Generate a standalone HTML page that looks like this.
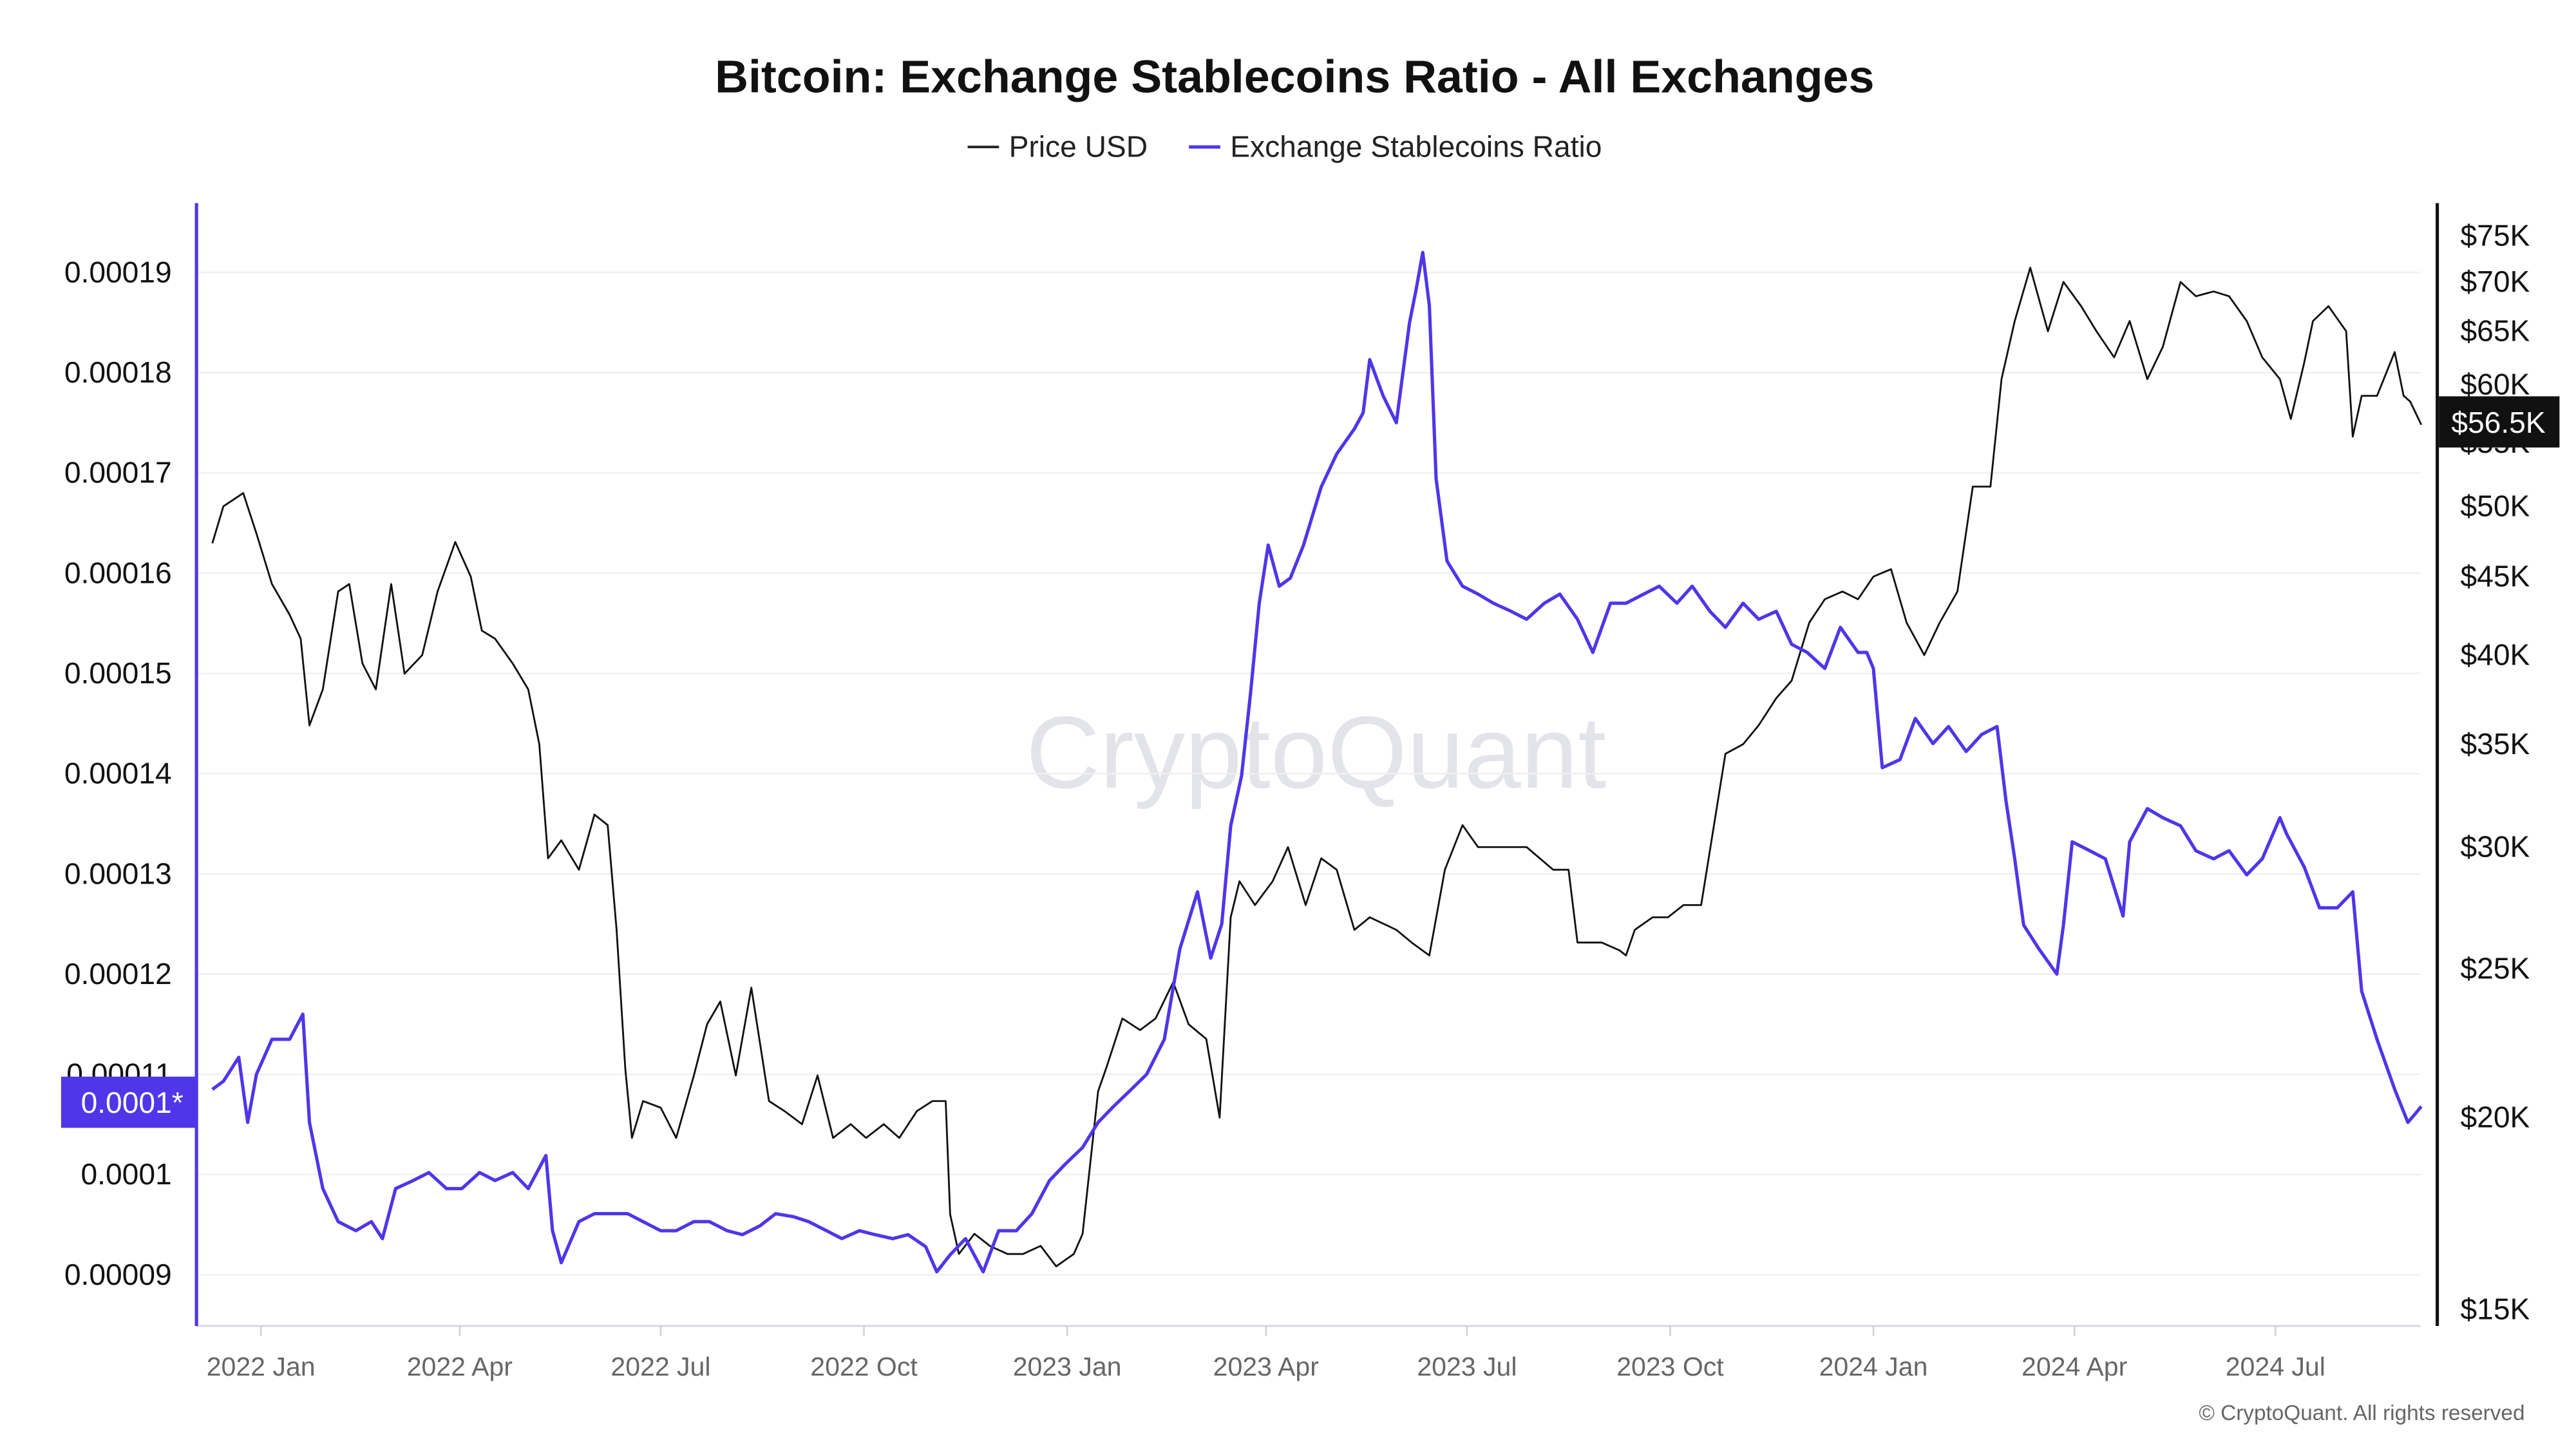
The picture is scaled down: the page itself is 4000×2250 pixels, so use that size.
<!DOCTYPE html>
<html><head><meta charset="utf-8"><style>
html,body{margin:0;padding:0;background:#fff;}
svg{display:block;font-family:"Liberation Sans",sans-serif;}
</style></head><body>
<svg id="chart" width="4000" height="2250" viewBox="0 0 1560 877.5" xmlns="http://www.w3.org/2000/svg">
<rect width="1560" height="877.5" fill="#fff"/>
<text x="784" y="56" text-anchor="middle" font-size="28" font-weight="bold" fill="#111">Bitcoin: Exchange Stablecoins Ratio - All Exchanges</text>
<g>
<g><line x1="586" y1="89" x2="605" y2="89" stroke="#222" stroke-width="1.5"/><text x="611" y="95" font-size="18" fill="#222">Price USD</text></g>
<g><line x1="720" y1="89" x2="739" y2="89" stroke="#4f36e8" stroke-width="2"/><text x="745" y="95" font-size="18" fill="#222">Exchange Stablecoins Ratio</text></g>
</g>
<text x="797" y="477" text-anchor="middle" font-size="62" fill="#e3e3ea">CryptoQuant</text>
<g id="grid"></g><g id="xaxis"></g><g id="lines"></g><g id="yaxes"></g>
<text x="1529" y="860" text-anchor="end" font-size="13" fill="#666">© CryptoQuant. All rights reserved</text>
</svg>
<script>
const priceDays=[-22,-17,-8,-2,5,13,18,22,28,35,40,46,52,59,65,73,80,88,95,100,106,114,121,126,130,136,144,151,157,161,165,168,173,181,188,196,202,208,215,222,230,237,245,252,259,267,274,282,289,297,304,310,312,316,323,330,338,345,353,360,368,372,379,383,390,398,405,413,420,428,434,439,443,450,458,465,473,480,487,495,502,514,521,529,536,544,551,562,573,585,592,596,607,615,618,622,630,637,644,652,663,671,678,686,693,701,708,716,723,730,738,745,753,760,768,775,783,788,794,801,809,816,824,831,839,846,854,861,869,876,884,891,899,906,914,919,925,929,936,944,947,951,958,966,970,973,978];
const priceValues=[47.3,50,51,48,44.5,42.5,41,36,38,44,44.5,39.5,38,44.5,38.9,40,44,47.4,45,41.5,41,39.5,38,35,29.5,30.3,29,31.5,31,26.5,21.5,19.4,20.5,20.3,19.4,21.3,23,23.8,21.3,24.3,20.5,20.2,19.8,21.3,19.4,19.8,19.4,19.8,19.4,20.2,20.5,20.5,17.3,16.3,16.8,16.5,16.3,16.3,16.5,16.0,16.3,16.8,20.8,21.6,23.2,22.8,23.2,24.5,23,22.5,20,27,28.5,27.5,28.5,30,27.5,29.5,29,26.5,27,26.5,26,25.5,29,31,30,30,30,29,29,26,26,25.7,25.5,26.5,27,27,27.5,27.5,34.5,35,36,37.5,38.5,42,43.5,44,43.5,45,45.5,42,40,42,44,51.5,51.5,60.5,66,71.5,65,70,67.5,65,62.5,66,60.5,63.5,70,68.5,69,68.5,66,62.5,60.5,57,62,66,67.5,65,55.5,59,59,63,59,58.5,56.5];
const ratioDays=[-22,-17,-10,-6,-2,5,13,19,22,28,35,43,50,55,61,69,76,84,91,99,106,114,121,129,132,136,144,151,158,166,173,181,188,196,203,211,218,226,233,241,248,256,263,271,278,286,293,301,306,312,319,327,334,342,349,357,364,372,379,386,394,401,409,416,424,430,435,439,444,448,452,456,461,466,472,480,487,495,499,502,508,514,520,523,526,529,532,537,544,551,558,566,573,581,588,596,603,611,618,626,633,641,648,656,663,671,678,686,693,700,708,715,723,727,730,734,742,749,757,764,772,779,786,790,794,798,805,813,816,820,828,835,843,846,854,861,869,876,884,891,899,906,914,917,925,932,940,947,951,958,966,972,975,978];
const ratioValues=[10.85,10.93,11.17,10.52,11.0,11.35,11.35,11.6,10.52,9.86,9.53,9.44,9.53,9.36,9.86,9.94,10.02,9.86,9.86,10.02,9.94,10.02,9.86,10.19,9.44,9.12,9.53,9.61,9.61,9.61,9.53,9.44,9.44,9.53,9.53,9.44,9.4,9.49,9.61,9.58,9.53,9.44,9.36,9.44,9.4,9.36,9.4,9.28,9.03,9.2,9.36,9.03,9.44,9.44,9.61,9.94,10.1,10.27,10.52,10.68,10.85,11.0,11.35,12.25,12.82,12.16,12.5,13.48,13.98,14.8,15.7,16.28,15.87,15.95,16.28,16.86,17.19,17.44,17.6,18.13,17.77,17.5,18.5,18.83,19.2,18.67,16.94,16.12,15.87,15.79,15.7,15.62,15.54,15.7,15.79,15.54,15.21,15.7,15.7,15.79,15.87,15.7,15.87,15.62,15.46,15.7,15.54,15.62,15.29,15.21,15.05,15.46,15.21,15.21,15.05,14.06,14.14,14.55,14.3,14.47,14.22,14.39,14.47,13.73,13.15,12.49,12.25,12.0,12.49,13.32,13.23,13.15,12.58,13.32,13.65,13.56,13.48,13.23,13.15,13.23,12.99,13.15,13.56,13.4,13.07,12.66,12.66,12.82,11.83,11.35,10.85,10.52,10.6,10.68];
const leftTicks=["0.00009","0.0001","0.00011","0.00012","0.00013","0.00014","0.00015","0.00016","0.00017","0.00018","0.00019"];
const leftTickValues=[9,10,11,12,13,14,15,16,17,18,19];
const rightTicks=[15,20,25,30,35,40,45,50,55,60,65,70,75];
const xTickLabels=["2022 Jan","2022 Apr","2022 Jul","2022 Oct","2023 Jan","2023 Apr","2023 Jul","2023 Oct","2024 Jan","2024 Apr","2024 Jul"];
const xTickDays=[0,90,181,273,365,455,546,638,730,821,912];

const NS="http://www.w3.org/2000/svg";
const X0=119,X1=1476,YB=803;
const xOf=d=>158+d*1.3377;
const yL=v=>772-(v-9)*60.7;
const yR=p=>793-Math.log(p/15)*404;
function mk(tag,attrs,parent){const e=document.createElementNS(NS,tag);for(const k in attrs)e.setAttribute(k,attrs[k]);parent.appendChild(e);return e;}
const grid=document.getElementById('grid'),xa=document.getElementById('xaxis'),ln=document.getElementById('lines'),ya=document.getElementById('yaxes');

leftTickValues.forEach((v,i)=>{
  const g=mk('line',{x1:X0,x2:1466,y1:yL(v),y2:yL(v),stroke:'#f0f0f0','stroke-width':1},grid);
  
  
  const t=mk('text',{x:104,y:yL(v)+6,'text-anchor':'end','font-size':18,fill:'#111'},ya);
  t.textContent=leftTicks[i];
  
  
});
rightTicks.forEach(p=>{
  const t=mk('text',{x:1490,y:yR(p)+6,'font-size':18,fill:'#111'},ya);
  t.textContent='$'+p+'K';
  
  
});
const ax=mk('line',{x1:X0,x2:1466,y1:YB,y2:YB,stroke:'#d8d8e0','stroke-width':1.2},xa);


xTickDays.forEach((d,i)=>{
  mk('line',{x1:xOf(d),x2:xOf(d),y1:YB,y2:YB+6,stroke:'#d0d0d8','stroke-width':1},xa);
  const t=mk('text',{x:xOf(d),y:YB+30,'text-anchor':'middle','font-size':16,fill:'#666'},xa);
  t.textContent=xTickLabels[i];
  
  
});
const pp=mk('polyline',{points:priceDays.map((d,i)=>xOf(d).toFixed(1)+','+yR(priceValues[i]).toFixed(1)).join(' '),fill:'none',stroke:'#111','stroke-width':1.1,'stroke-linejoin':'round'},ln);


const rp=mk('polyline',{points:ratioDays.map((d,i)=>xOf(d).toFixed(1)+','+yL(ratioValues[i]).toFixed(1)).join(' '),fill:'none',stroke:'#4f36e8','stroke-width':2,'stroke-linejoin':'round'},ln);



const la=mk('line',{x1:X0,x2:X0,y1:123,y2:803,stroke:'#4f36e8','stroke-width':2},ya);


const ra=mk('line',{x1:X1,x2:X1,y1:123,y2:803,stroke:'#111','stroke-width':2},ya);



const lb=mk('g',{},ya);


mk('rect',{x:37,y:652,width:82,height:31,fill:'#4f36e8'},lb);
mk('text',{x:80,y:674,'text-anchor':'middle','font-size':18,fill:'#fff'},lb).textContent='0.0001*';
const lastP=priceValues[priceValues.length-1];
const rb=mk('g',{},ya);


mk('rect',{x:1477,y:240,width:73,height:31,fill:'#111'},rb);
mk('text',{x:1513,y:262,'text-anchor':'middle','font-size':18,fill:'#fff'},rb).textContent='$'+lastP+'K';
</script>
</body></html>
